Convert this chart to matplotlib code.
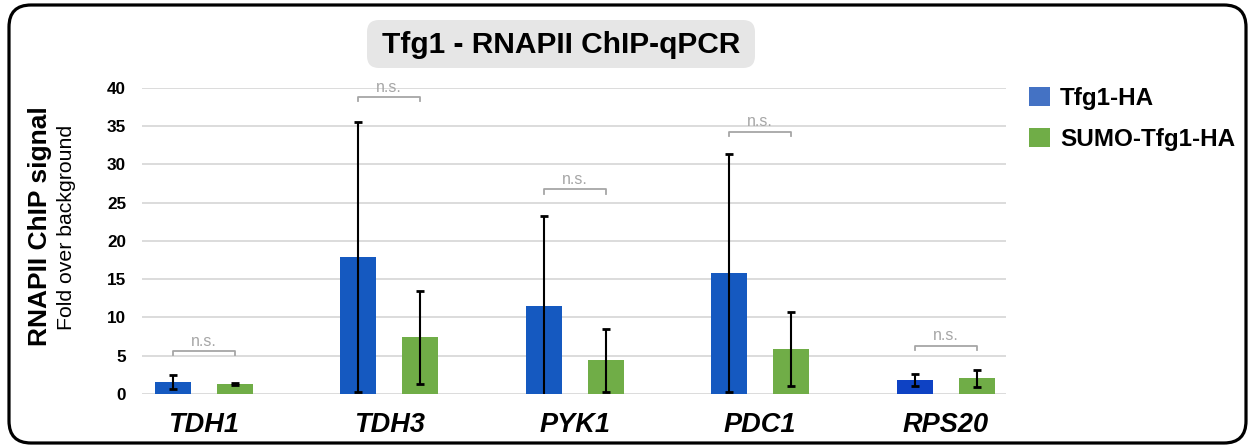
import matplotlib

matplotlib.use("Agg")

import numpy as np
from matplotlib import pyplot as plt
from matplotlib.patches import FancyBboxPatch, Patch

genes = ["TDH1", "TDH3", "PYK1", "PDC1", "RPS20"]
series_names = ["Tfg1-HA", "SUMO-Tfg1-HA"]
tfg1_values = [1.6, 17.9, 11.5, 15.8, 1.8]
tfg1_errors = [0.9, 17.7, 11.8, 15.6, 0.8]
sumo_values = [1.3, 7.4, 4.4, 5.9, 2.05]
sumo_errors = [0.08, 6.1, 4.1, 4.8, 1.1]
ns_heights = [5.6, 38.8, 26.75, 34.3, 6.3]
y_ticks = [0, 5, 10, 15, 20, 25, 30, 35, 40]

BAR_BLUE = ["#1559C0", "#1559C0", "#1559C0", "#1559C0", "#0E42C4"]
BAR_GREEN = "#70AD47"
LEGEND_BLUE = "#4472C4"
LEGEND_GREEN = "#70AD47"
GRAY = "#A6A6A6"

plt.rcParams["font.family"] = ["Liberation Sans", "DejaVu Sans"]

fig = plt.figure(figsize=(12.5, 4.46), dpi=100)
ax = fig.add_axes([0.1136, 0.1166, 0.6912, 0.6861])

x = np.arange(len(genes))
offset = 0.167
width = 0.194

ax.bar(x - offset, tfg1_values, width, color=BAR_BLUE, zorder=2)
ax.bar(x + offset, sumo_values, width, color=BAR_GREEN, zorder=2)
err_style = dict(fmt="none", ecolor="black", elinewidth=1.5, capsize=2.6,
                 capthick=2.0, zorder=3)
ax.errorbar(x - offset, tfg1_values, yerr=tfg1_errors, **err_style)
ax.errorbar(x + offset, sumo_values, yerr=sumo_errors, **err_style)

# n.s. brackets between the two bars of each gene
for xi, h in zip(x, ns_heights):
    x1, x2 = xi - offset, xi + offset
    ax.plot([x1, x1, x2, x2], [h - 0.55, h, h, h - 0.55], color=GRAY,
            linewidth=1.3, clip_on=False, zorder=3)
    ax.annotate("n.s.", (xi, h), xytext=(0, 4), textcoords="offset points",
                ha="center", va="baseline", fontsize=11.5, color=GRAY,
                annotation_clip=False)

ax.set_xlim(-0.334, 4.326)
ax.set_ylim(0, 40)
ax.set_yticks(y_ticks)
ax.set_yticklabels([str(t) for t in y_ticks], fontsize=12.3, fontweight="bold")
ax.set_xticks(x)
ax.set_xticklabels(genes, fontsize=19.5, fontweight="bold", fontstyle="italic")
ax.tick_params(axis="y", length=0, pad=11.5)
ax.tick_params(axis="x", length=0, pad=13)
ax.grid(axis="y", color="#D9D9D9", linewidth=1.3, zorder=0)
ax.set_axisbelow(True)
for spine in ax.spines.values():
    spine.set_visible(False)

fig.text(0.032, 0.493, "RNAPII ChIP signal", rotation=90, ha="center",
         va="center", fontsize=19, fontweight="bold")
fig.text(0.053, 0.489, "Fold over background", rotation=90, ha="center",
         va="center", fontsize=15.3)

handles = [Patch(facecolor=LEGEND_BLUE), Patch(facecolor=LEGEND_GREEN)]
fig.legend(handles, series_names, loc="upper left",
           bbox_to_anchor=(0.8232, 0.806), frameon=False,
           prop={"size": 17.5, "weight": "bold"}, handlelength=0.86,
           handleheight=0.86, handletextpad=0.41, labelspacing=0.75,
           borderaxespad=0, borderpad=0)

# title in a rounded grey box
fig.add_artist(FancyBboxPatch((3.67, 3.78), 3.88, 0.48,
                              boxstyle="round,pad=0,rounding_size=0.12",
                              transform=fig.dpi_scale_trans,
                              facecolor="#E6E6E6", edgecolor="none"))
fig.text(5.61, 4.015, "Tfg1 - RNAPII ChIP-qPCR", transform=fig.dpi_scale_trans,
         ha="center", va="center", fontsize=21.5, fontweight="bold")

# outer rounded frame
fig.add_artist(FancyBboxPatch((0.09, 0.03), 12.37, 4.38,
                              boxstyle="round,pad=0,rounding_size=0.22",
                              transform=fig.dpi_scale_trans,
                              facecolor="none", edgecolor="black",
                              linewidth=2.3))

fig.savefig("out.png", dpi=100)
